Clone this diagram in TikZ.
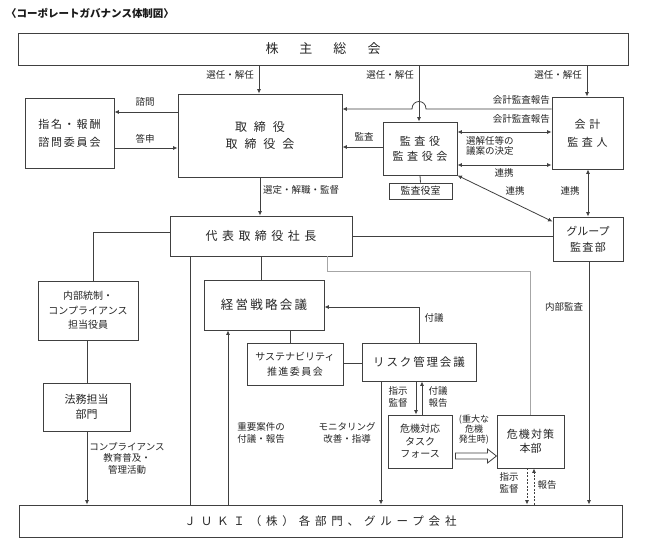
\documentclass[tikz,border=0pt]{standalone}
\usepackage{fontspec}
\setmainfont{Noto Sans CJK JP}
\usetikzlibrary{arrows.meta,calc}
\newcommand{\lsp}[2]{{\addfontfeature{LetterSpace=#1}#2}}
\tikzset{
  ln/.style={line width=0.8pt, draw=black!75},
  grayln/.style={line width=0.8pt, draw=black!35},
  bx/.style={draw=black!75, line width=0.9pt, inner sep=0pt, align=center, text=black!85},
  lb/.style={font=\fontsize{9.5}{11.5}\selectfont, inner sep=0pt, align=center, text=black!85},
  toarr/.style={-{Latex[length=4.5pt,width=4pt]}},
  bothar/.style={{Latex[length=4.5pt,width=4pt]}-{Latex[length=4.5pt,width=4pt]}},
  dotline/.style={dash pattern=on 2pt off 1.5pt}
}
\begin{document}
\begin{tikzpicture}[x=1pt,y=-1pt]
\fill[white] (0,0) rectangle (645,545);
\useasboundingbox (0,0) rectangle (645,545);

\node[anchor=west, inner sep=0pt, text=black!90, font=\bfseries\fontsize{10.5}{12}\selectfont] (title) at (6,13) {〈コーポレートガバナンス体制図〉};

% boxes
\node[bx,minimum width=610pt,minimum height=32pt,font=\fontsize{13}{15}\selectfont] (kabu) at (323,49) {株\hspace{21pt}主\hspace{21pt}総\hspace{21pt}会};
\node[bx,minimum width=89pt,minimum height=70pt,font=\fontsize{11}{18}\selectfont] (shimei) at (69.5,133) {\lsp{16}{指名・報酬}\\\lsp{16}{諮問委員会}};
\node[bx,minimum width=164pt,minimum height=83pt,font=\fontsize{12}{17}\selectfont] (tori) at (260,135.5) {\lsp{58}{取締役}\\\lsp{58}{取締役会}};
\node[bx,minimum width=74pt,minimum height=53pt,font=\fontsize{11}{15}\selectfont] (kansa) at (420,148.5) {\lsp{33}{監査役}\\\lsp{33}{監査役会}};
\node[bx,minimum width=63pt,minimum height=16pt,font=\fontsize{10}{12}\selectfont] (kansashitsu) at (420.5,191) {監査役室};
\node[bx,minimum width=71pt,minimum height=72pt,font=\fontsize{11}{18}\selectfont] (kaikei) at (587.5,133) {\lsp{32}{会計}\\\lsp{32}{監査人}};
\node[bx,minimum width=70pt,minimum height=44pt,font=\fontsize{11}{16}\selectfont] (group) at (588,239) {グループ\\\lsp{12}{監査部}};
\node[bx,minimum width=182pt,minimum height=40pt,font=\fontsize{12}{15}\selectfont] (daihyo) at (261,236) {\lsp{37}{代表取締役社長}};
\node[bx,minimum width=100pt,minimum height=59pt,font=\fontsize{10}{14.5}\selectfont] (naibu) at (88,310.5) {内部統制・\\コンプライアンス\\担当役員};
\node[bx,minimum width=87pt,minimum height=48pt,font=\fontsize{11}{15}\selectfont] (homu) at (86.5,407) {法務担当\\部門};
\node[bx,minimum width=603pt,minimum height=32pt,font=\fontsize{11.5}{14}\selectfont] (juki) at (320.5,521) {\lsp{42}{ＪＵＫＩ（株）各部門、グループ会社}};
\node[bx,minimum width=120pt,minimum height=50pt,font=\fontsize{12.5}{15}\selectfont] (keiei) at (264,305) {\lsp{18}{経営戦略会議}};
\node[bx,minimum width=96pt,minimum height=42pt,font=\fontsize{10}{15}\selectfont] (sustain) at (295,364) {サステナビリティ\\\lsp{15}{推進委員会}};
\node[bx,minimum width=114pt,minimum height=38pt,font=\fontsize{11.5}{14}\selectfont] (risk) at (419,362) {\lsp{16}{リスク管理会議}};
\node[bx,minimum width=64pt,minimum height=53pt,font=\fontsize{10}{12.5}\selectfont] (kiki) at (420,441.5) {危機対応\\タスク\\フォース};
\node[bx,minimum width=67pt,minimum height=53pt,font=\fontsize{11}{14}\selectfont] (taisaku) at (530.5,441.5) {\lsp{10}{危機対策}\\本部};

% shareholders
\draw[ln,toarr] (259,0 |- kabu.south) -- (259,0 |- tori.north);
\node[lb,anchor=east] (l1) at (254,75) {選任・解任};
\draw[ln,toarr] (419,0 |- kabu.south) -- (419,0 |- kansa.north);
\node[lb,anchor=east] (l2) at (414,75) {選任・解任};
\draw[ln,toarr] (587,0 |- kabu.south) -- (587,0 |- kaikei.north);
\node[lb,anchor=east] (l3) at (582,75) {選任・解任};

% auditor report to board (with jump)
\draw[ln,toarr] (kaikei.west |- 0,109) -- (426,109) .. controls (426,99) and (412,99) .. (412,109) -- (tori.east |- 0,109);
\node[lb,anchor=east] (l4) at (550,100) {会計監査報告};

% kansa <-> kaikei
\draw[ln,bothar] (kansa.east |- 0,132) -- (kaikei.west |- 0,132);
\node[lb,anchor=east] (l5) at (550,119) {会計監査報告};
\node[lb,anchor=north west,align=left,font=\fontsize{9.5}{10.5}\selectfont] (l6) at (466,136) {選解任等の\\議案の決定};
\draw[ln,bothar] (kansa.east |- 0,165) -- (kaikei.west |- 0,165);
\node[lb] (l7) at (504,173) {連携};

% kansa -> tori
\draw[ln,toarr] (kansa.west |- 0,147) -- (tori.east |- 0,147);
\node[lb] (l8) at (364,137) {監査};

% tori <-> shimei
\draw[ln,toarr] (tori.west |- 0,112) -- (shimei.east |- 0,112);
\node[lb] (l9) at (145,102) {諮問};
\draw[ln,toarr] (shimei.east |- 0,148) -- (tori.west |- 0,148);
\node[lb] (l10) at (145,139) {答申};

% kansa - kansashitsu
\draw[ln] (kansa.south) -- (kansashitsu.north);

% renkei diagonal and vertical
\draw[ln,bothar] (kansa.south east) -- ([yshift=-5pt]group.north west);
\node[lb] (l11) at (515,191) {連携};
\draw[ln,bothar] (588,0 |- kaikei.south) -- (588,0 |- group.north);
\node[lb] (l12) at (570,191) {連携};

% tori -> daihyo
\draw[ln,toarr] (260,0 |- tori.south) -- (260,0 |- daihyo.north);
\node[lb,anchor=west] (l13) at (263,190) {選定・解職・監督};

% daihyo - group
\draw[ln] (daihyo.east) -- (group.west |- daihyo.east);

% gray line
\draw[grayln] (327,0 |- daihyo.south) -- (327,271) -- (530,271) -- (530,0 |- taisaku.north);

% left chain
\draw[ln] (daihyo.west |- 0,232) -- (93,232) -- (93,0 |- naibu.north);
\draw[ln] (87,0 |- naibu.south) -- (87,0 |- homu.north);
\draw[ln,toarr] (87,0 |- homu.south) -- (87,0 |- juki.north);
\node[lb,anchor=north,font=\fontsize{9.5}{11.5}\selectfont] (l14) at (127,442) {コンプライアンス\\教育普及・\\管理活動};

% daihyo -> juki
\draw[ln] (190,0 |- daihyo.south) -- (190,0 |- juki.north);

% daihyo - keiei
\draw[ln] (261,0 |- daihyo.south) -- (261,0 |- keiei.north);

% juki -> keiei
\draw[ln,toarr] (228,0 |- juki.north) -- (228,0 |- keiei.south);
\node[lb] (l15) at (261,433) {重要案件の\\付議・報告};

% keiei - sustain - risk
\draw[ln] (290,0 |- keiei.south) -- (290,0 |- sustain.north);
\draw[ln] (sustain.east |- 0,363) -- (risk.west |- 0,363);

% risk -> keiei
\draw[ln,toarr] (419,0 |- risk.north) -- (419,307) -- (keiei.east |- 0,307);
\node[lb] (l16) at (434,318) {付議};

% risk -> juki
\draw[ln,toarr] (381,0 |- risk.south) -- (381,0 |- juki.north);
\node[lb] (l17) at (347,433) {モニタリング\\改善・指導};

% risk <-> kiki
\draw[ln,toarr] (416,0 |- risk.south) -- (416,0 |- kiki.north);
\draw[ln,toarr] (422,0 |- kiki.north) -- (422,0 |- risk.south);
\node[lb] (l18) at (398,397) {指示\\監督};
\node[lb] (l19) at (438,397) {付議\\報告};

% hollow arrow kiki -> taisaku
\coordinate (ha) at ([xshift=3pt]kiki.east |- 0,456);
\draw[ln,fill=white] (ha) ++(0,-3) -- ++(32,0) -- ++(0,-4) -- ++(9,7) -- ++(-9,7) -- ++(0,-4) -- ++(-32,0) -- cycle;
\node[lb,font=\fontsize{9}{10}\selectfont] (l20) at (474,430) {(重大な\\危機\\発生時)};

% taisaku <-> juki
\draw[ln,dotline,toarr] (527,0 |- taisaku.south) -- (527,0 |- juki.north);
\draw[ln,dotline,toarr] (534,0 |- juki.north) -- (534,0 |- taisaku.south);
\node[lb] (l21) at (509,483) {指示\\監督};
\node[lb] (l22) at (547,485) {報告};

% group -> juki
\draw[ln,toarr] (589,0 |- group.south) -- (589,0 |- juki.north);
\node[lb] (l23) at (564,307) {内部監査};
\end{tikzpicture}
\end{document}
